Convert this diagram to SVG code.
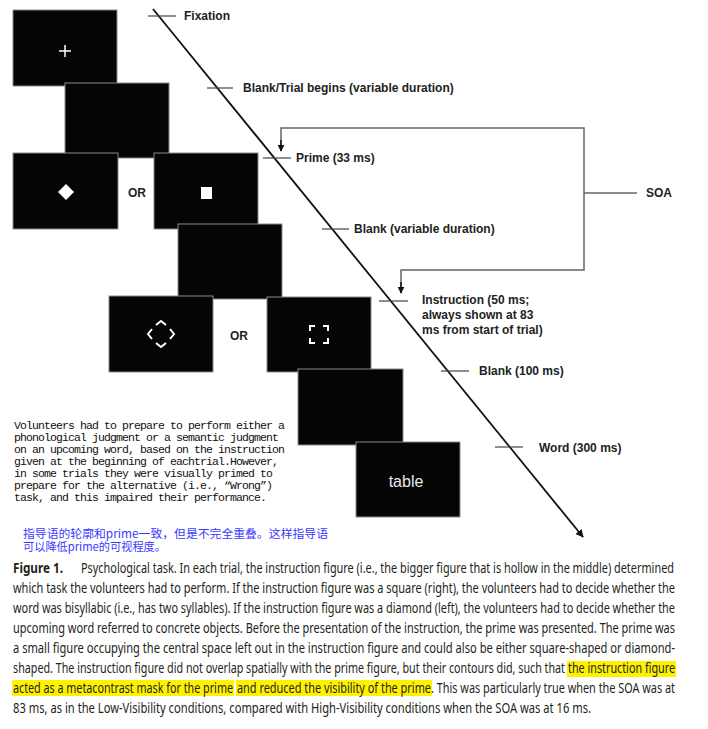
<svg xmlns="http://www.w3.org/2000/svg" width="708" height="729" viewBox="0 0 708 729">
<style>
.scr{fill:#050505;stroke:#8a8a8a;stroke-width:1}
.lbl{font-family:"Liberation Sans",Arial,sans-serif;font-weight:bold;font-size:12px;fill:#222}
.tick{stroke:#444;stroke-width:1.2}
.soa{stroke:#666;stroke-width:1.5;fill:none}
.wh{stroke:#fff;stroke-width:2;fill:none}
.para{font-family:"Liberation Mono","DejaVu Sans Mono",monospace;font-size:11.5px;letter-spacing:-0.9px;fill:#111}
.zh{font-family:"Noto Sans CJK SC",sans-serif;font-size:11.5px;fill:#3a3aff}
.cap{font-family:"Noto Sans","Liberation Sans",sans-serif;font-size:14px;fill:#231f20}
.hl{fill:#fff200}
</style>
<defs>
<marker id="ah" viewBox="0 0 10 10" refX="9" refY="5" markerWidth="7" markerHeight="7" markerUnits="userSpaceOnUse" orient="auto">
<path d="M0,0 L10,5 L0,10 z" fill="#111"/>
</marker>
<marker id="ah2" viewBox="0 0 10 10" refX="9" refY="5" markerWidth="8" markerHeight="8" markerUnits="userSpaceOnUse" orient="auto">
<path d="M0,0 L10,5 L0,10 z" fill="#111"/>
</marker>
</defs>
<rect width="708" height="729" fill="#fff"/>

<g id="screen-fixation"><rect class="scr" x="13" y="10" width="104" height="76"/><path d="M59,51 H71 M65,45 V57" stroke="#fff" stroke-width="1.5"/></g>
<g id="screen-blank1"><rect class="scr" x="65" y="83" width="104" height="75"/></g>
<g id="screen-prime-diamond"><rect class="scr" x="13" y="153" width="105" height="76"/><path d="M66,184 L74,192 L66,200 L58,192 z" fill="#fff"/></g>
<g id="screen-prime-square"><rect class="scr" x="154" y="153" width="104" height="76"/><rect x="201" y="187" width="11" height="12" fill="#fff"/></g>
<g id="or1"><text class="lbl" x="137" y="197" text-anchor="middle">OR</text></g>
<g id="screen-blank2"><rect class="scr" x="178" y="224" width="104" height="75"/></g>
<g id="screen-instr-diamond"><rect class="scr" x="109" y="296" width="104" height="76"/>
<path class="wh" d="M156,325 L161,321 L166,325 M170,329 L174,334 L170,339 M166,343 L161,347 L156,343 M152,339 L148,334 L152,329"/></g>
<g id="or2"><text class="lbl" x="239" y="340" text-anchor="middle">OR</text></g>
<g id="screen-instr-square"><rect class="scr" x="267" y="297" width="104" height="75"/>
<path class="wh" d="M310,331 V326 H315 M323,326 H328 V331 M328,338 V343 H323 M315,343 H310 V338"/></g>
<g id="screen-blank3"><rect class="scr" x="298" y="369" width="105" height="76"/></g>
<g id="screen-word"><rect class="scr" x="356" y="442" width="104" height="75"/><text x="406" y="487" text-anchor="middle" font-family="Liberation Sans,Arial,sans-serif" font-size="16" fill="#e8e8e8">table</text></g>

<g id="connectors">
<line x1="153" y1="9" x2="583" y2="537" stroke="#111" stroke-width="1.8" marker-end="url(#ah2)"/>
<line class="tick" x1="148" y1="16" x2="176" y2="16"/>
<line class="tick" x1="207" y1="88" x2="233" y2="88"/>
<line class="tick" x1="263" y1="158" x2="291" y2="158"/>
<line class="tick" x1="322" y1="229" x2="349" y2="229"/>
<line class="tick" x1="379" y1="301" x2="408" y2="301"/>
<line class="tick" x1="441" y1="371" x2="469" y2="371"/>
<line class="tick" x1="495" y1="447" x2="523" y2="447"/>
<path class="soa" d="M281,151 V128 H584 V270 H401 V293"/>
<line x1="281" y1="140" x2="281" y2="151" stroke="#111" stroke-width="1.5" marker-end="url(#ah)"/>
<line x1="401" y1="282" x2="401" y2="293" stroke="#111" stroke-width="1.5" marker-end="url(#ah)"/>
<line class="soa" x1="584" y1="193" x2="637" y2="193"/>
</g>

<g id="labels">
<text class="lbl" x="184" y="20">Fixation</text>
<text class="lbl" x="243" y="92">Blank/Trial begins (variable duration)</text>
<text class="lbl" x="296" y="162">Prime (33 ms)</text>
<text class="lbl" x="646" y="197">SOA</text>
<text class="lbl" x="354" y="233">Blank (variable duration)</text>
<text class="lbl" x="422" y="304">Instruction (50 ms;</text>
<text class="lbl" x="422" y="319">always shown at 83</text>
<text class="lbl" x="422" y="334">ms from start of trial)</text>
<text class="lbl" x="479" y="375">Blank (100 ms)</text>
<text class="lbl" x="539" y="452">Word (300 ms)</text>
</g>

<g id="note-en">
<text class="para" x="14" y="429">Volunteers had to prepare to perform either a</text>
<text class="para" x="14" y="441">phonological judgment or a semantic judgment</text>
<text class="para" x="14" y="453">on an upcoming word, based on the instruction</text>
<text class="para" x="14" y="465">given at the beginning of eachtrial.However,</text>
<text class="para" x="14" y="477">in some trials they were visually primed to</text>
<text class="para" x="14" y="489">prepare for the alternative (i.e., “Wrong”)</text>
<text class="para" x="14" y="501">task, and this impaired their performance.</text>
</g>

<g id="note-zh">
<text class="zh" x="23" y="538" textLength="305" lengthAdjust="spacingAndGlyphs">指导语的轮廓和prime一致，但是不完全重叠。这样指导语</text>
<text class="zh" x="23" y="551" textLength="143" lengthAdjust="spacingAndGlyphs">可以降低prime的可视程度。</text>
</g>

<g id="caption">
<rect class="hl" x="567" y="661" width="109" height="16"/>
<rect class="hl" x="12" y="680" width="222" height="16"/>
<rect class="hl" x="236" y="680" width="196" height="16"/>
<g transform="scale(0.75,1)">
<text class="cap" x="17.333" y="573" font-weight="bold" textLength="66.667" lengthAdjust="spacingAndGlyphs">Figure 1.</text>
<text class="cap" x="108" y="573" textLength="790.667" lengthAdjust="spacingAndGlyphs">Psychological task. In each trial, the instruction figure (i.e., the bigger figure that is hollow in the middle) determined</text>
<text class="cap" x="17.333" y="593" textLength="882.667" lengthAdjust="spacingAndGlyphs">which task the volunteers had to perform. If the instruction figure was a square (right), the volunteers had to decide whether the</text>
<text class="cap" x="17.333" y="613" textLength="882.667" lengthAdjust="spacingAndGlyphs">word was bisyllabic (i.e., has two syllables). If the instruction figure was a diamond (left), the volunteers had to decide whether the</text>
<text class="cap" x="17.333" y="633" textLength="882.667" lengthAdjust="spacingAndGlyphs">upcoming word referred to concrete objects. Before the presentation of the instruction, the prime was presented. The prime was</text>
<text class="cap" x="17.333" y="653" textLength="882.667" lengthAdjust="spacingAndGlyphs">a small figure occupying the central space left out in the instruction figure and could also be either square-shaped or diamond-</text>
<text class="cap" x="17.333" y="673" textLength="736" lengthAdjust="spacingAndGlyphs">shaped. The instruction figure did not overlap spatially with the prime figure, but their contours did, such that</text>
<text class="cap" x="757.333" y="673" textLength="142.667" lengthAdjust="spacingAndGlyphs">the instruction figure</text>
<text class="cap" x="17.333" y="693" textLength="293.333" lengthAdjust="spacingAndGlyphs">acted as a metacontrast mask for the prime</text>
<text class="cap" x="316" y="693" textLength="258.667" lengthAdjust="spacingAndGlyphs">and reduced the visibility of the prime</text>
<text class="cap" x="574.667" y="693" textLength="325.333" lengthAdjust="spacingAndGlyphs">. This was particularly true when the SOA was at</text>
<text class="cap" x="17.333" y="713" textLength="770.667" lengthAdjust="spacingAndGlyphs">83 ms, as in the Low-Visibility conditions, compared with High-Visibility conditions when the SOA was at 16 ms.</text>
</g>
</g>
</svg>
